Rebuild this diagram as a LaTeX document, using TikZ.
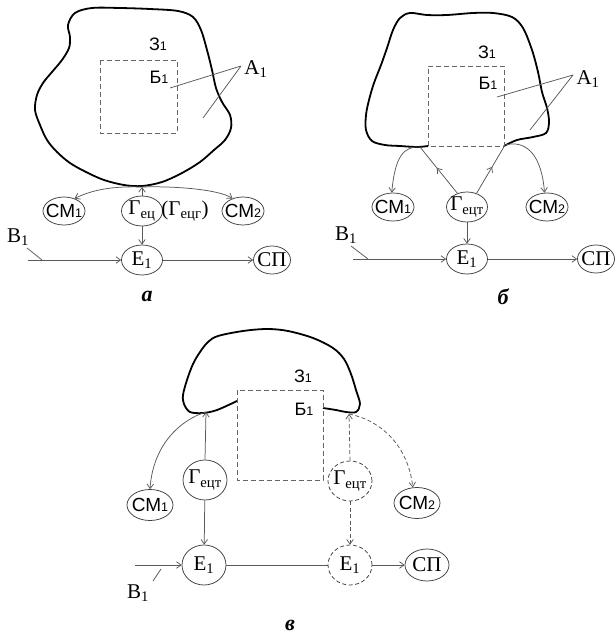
\documentclass[tikz,border=0pt]{standalone}
\usepackage{fontspec}
\setmainfont{Liberation Serif}
\newfontfamily\arialf{Liberation Sans}
\usetikzlibrary{shapes.geometric,arrows.meta,decorations.markings}
\newcommand{\zw}[1]{\makebox[0pt]{#1}}
\newcommand{\sbx}[1]{\textsubscript{#1}}
\newcommand{\sone}[1]{{\fontsize{12.5}{13}\selectfont #1}}
\tikzset{
  mytip/.tip={Straight Barb[length=4.5pt,width=6.5pt]},
  ln/.style={draw=black!65, line width=0.75pt},
  arr/.style={ln, -mytip},
  darr/.style={arr, dash pattern=on 4pt off 2.5pt},
  midarr/.style={ln, postaction={decorate}, decoration={markings, mark=at position 0.55 with {\arrow{mytip}}}},
  blob/.style={draw=black, line width=1.8pt},
  dbox/.style={draw=black!60, line width=0.9pt, dash pattern=on 5pt off 3pt},
  ndn/.style={draw=black!75, line width=0.75pt, ellipse, inner sep=0pt, minimum width=41pt, minimum height=30pt, font=\fontsize{21}{23}\selectfont},
  cmn/.style={ndn, font=\arialf\fontsize{19}{21}\selectfont, minimum width=42pt, minimum height=28pt},
  spn/.style={ndn, minimum width=37pt, minimum height=28pt},
  ndcn/.style={ndn, minimum width=44pt, minimum height=40pt},
  cmcn/.style={cmn, minimum width=46pt, minimum height=31pt},
  spcn/.style={spn, minimum width=44pt, minimum height=32pt},
  dsh/.style={dash pattern=on 4pt off 2.5pt},
  txr/.style={inner sep=0pt, font=\fontsize{21}{23}\selectfont},
  txs/.style={inner sep=0pt, font=\arialf\fontsize{18}{20}\selectfont},
  lbl/.style={inner sep=0pt, font=\bfseries\itshape\fontsize{22}{24}\selectfont}
}
\begin{document}
\begin{tikzpicture}[x=1pt,y=-1pt]
\useasboundingbox (0,0) rectangle (615,634);
\fill[white] (0,0) rectangle (615,634);

% ---------------- panel a ----------------
\draw[blob] plot[smooth cycle, tension=0.55] coordinates {
 (68,25) (75,13) (92,8) (120,8) (150,9) (178,11) (193,17) (201,30) (207,50) (212,70)
 (216,88) (222,102) (230,115) (231,128) (225,140) (214,150) (200,162) (182,173)
 (162,182) (142,186) (124,185) (104,180) (86,172) (70,163) (57,152) (47,140)
 (40,125) (35,110) (37,95) (43,83) (52,72) (62,60) (69,48) (70,37)};
\draw[dbox] (100,60) rectangle (177,133);
\node[txs] (z1a) at (158,44) {З\sone{1}};
\node[txs] (b1a) at (159,77) {Б\sone{1}};
\node[txr] (a1a) at (256,69) {А\sbx{1}};
\coordinate (a1ap) at (241,66);
\coordinate (a1aq) at (170,88);
\coordinate (a1ar) at (203,118);
\draw[ln] (a1ap) -- (a1aq);
\draw[ln] (a1ap) -- (a1ar);

\node[cmn] (ca1) at (64,211) {\zw{СМ\sone{1}}};
\node[ndn] (ga) at (142,211) {\zw{Г\sbx{ец}}};
\node[txr] (gga) at (185,211) {(Г\sbx{ецг})};
\node[cmn] (ca2) at (243,211) {\zw{СМ\sone{2}}};
\node[ndn] (ea) at (142,260) {\zw{Е\sbx{1}}};
\node[spn] (spa) at (272,260) {\zw{СП}};
\node[txr] (ba) at (18,237) {В\sbx{1}};
\coordinate (abot) at (142,187);
\coordinate (ba0) at (28,260);
\coordinate (bal1) at (27,248);
\coordinate (bal2) at (42,260);
\draw[arr] (ga.north) -- (abot);
\draw[arr] (abot) .. controls (112,186) and (92,190) .. (ca1.50);
\draw[arr] (abot) .. controls (172,186) and (218,189) .. (ca2.130);
\draw[arr] (ga) -- (ea);
\draw[arr] (ea) -- (spa);
\draw[arr] (ba0) -- (ea);
\draw[ln] (bal1) -- (bal2);
\node[lbl] (la) at (147,296) {а};

% ---------------- panel b ----------------
\draw[blob] plot[smooth, tension=0.55] coordinates {
 (428,146) (417,147) (400,146) (385,145) (372,141) (366,130) (366,115) (369,100)
 (374,83) (381,65) (387,48) (393,30) (400,18) (410,13) (427,15) (447,15) (473,13)
 (493,13) (512,17) (523,28) (532,50) (538,72) (542,92) (547,108) (549,122)
 (546,133) (533,137) (517,140) (504,146)};
\draw[dbox] (428,146) rectangle (504,66);
\node[txs] (z1b) at (487,52) {З\sone{1}};
\node[txs] (b1b) at (488,83) {Б\sone{1}};
\node[txr] (a1b) at (588,79) {А\sbx{1}};
\coordinate (a1bp) at (573,75);
\coordinate (a1bq) at (497,97);
\coordinate (a1br) at (530,130);
\draw[ln] (a1bp) -- (a1bq);
\draw[ln] (a1bp) -- (a1br);

\node[cmn] (cb1) at (393,207) {\zw{СМ\sone{1}}};
\node[ndn] (gb) at (467,207) {\zw{Г\sbx{ецт}}};
\node[cmn] (cb2) at (547,207) {\zw{СМ\sone{2}}};
\node[ndn] (eb) at (467,259) {\zw{Е\sbx{1}}};
\node[spn] (spb) at (596,259) {\zw{СП}};
\node[txr] (bb) at (346,235) {В\sbx{1}};
\coordinate (bl) at (420,147);
\coordinate (br) at (505,145);
\coordinate (bb0) at (353,259);
\coordinate (bbl1) at (351,246);
\coordinate (bbl2) at (368,259);
\draw[midarr] (gb.125) -- (bl);
\draw[midarr] (gb.55) -- (br);
\draw[arr] (bl) .. controls (404,146) and (395,156) .. (cb1.95);
\draw[arr] (br) .. controls (528,139) and (542,158) .. (cb2.100);
\draw[arr] (gb) -- (eb);
\draw[arr] (eb) -- (spb);
\draw[arr] (bb0) -- (eb);
\draw[ln] (bbl1) -- (bbl2);
\node[lbl] (lb) at (503,297) {б};

% ---------------- panel c ----------------
\draw[blob] plot[smooth, tension=0.55] coordinates {
 (237,401) (217,410) (203,413) (190,412) (184,404) (183,395) (187,380) (193,364)
 (200,352) (208,342) (218,336) (243,331) (267,329) (288,331) (313,338) (333,348)
 (344,359) (351,374) (356,390) (360,404) (356,412) (346,412) (336,410) (323,408)};
\draw[dbox] (237,390) rectangle (323,480);
\node[txs] (z1c) at (303,376) {З\sone{1}};
\node[txs] (b1c) at (304,409) {Б\sone{1}};

\node[cmcn] (cc1) at (150,505) {\zw{СМ\sone{1}}};
\node[ndcn] (gc1) at (205,480) {\zw{Г\sbx{ецт}}};
\node[ndcn, dsh] (gc2) at (350,481) {\zw{Г\sbx{ецт}}};
\node[cmcn] (cc2) at (417,503) {\zw{СМ\sone{2}}};
\node[ndcn] (ec1) at (204,565) {\zw{Е\sbx{1}}};
\node[ndcn, dsh] (ec2) at (350,565) {\zw{Е\sbx{1}}};
\node[spcn] (spc) at (427,565) {\zw{СП}};
\node[txr] (bc) at (138,593) {В\sbx{1}};
\coordinate (tl) at (206,412);
\coordinate (tr) at (349,414);
\coordinate (bc0) at (135,565);
\coordinate (bcl1) at (161,569);
\coordinate (bcl2) at (153,581);
\draw[arr] (gc1.north) -- (tl);
\draw[darr] (gc2.north) -- (tr);
\draw[arr] (tl) .. controls (180,420) and (153,445) .. (cc1.north);
\draw[darr] (tr) .. controls (380,420) and (408,445) .. (cc2.105);
\draw[arr] (gc1) -- (ec1);
\draw[darr] (gc2) -- (ec2);
\draw[ln] (ec1) -- (ec2);
\draw[arr] (ec2) -- (spc);
\draw[arr] (bc0) -- (ec1);
\draw[ln] (bcl1) -- (bcl2);
\node[lbl] (lc) at (290,625) {в};
\end{tikzpicture}
\end{document}
